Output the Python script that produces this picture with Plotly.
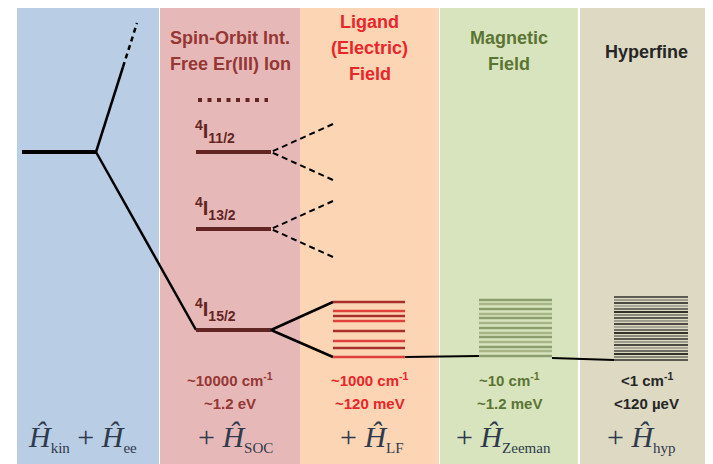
import plotly.graph_objects as go

# ============================================
# Panels (one per term of the Hamiltonian)
# ============================================
panel_titles = [[], ['Spin-Orbit Int.', 'Free Er(III) Ion'], ['Ligand', '(Electric)', 'Field'],
                ['Magnetic', 'Field'], ['Hyperfine']]
scale_cm = ['', '~10000 cm<sup>-1</sup>', '~1000 cm<sup>-1</sup>', '~10 cm<sup>-1</sup>', '&lt;1 cm<sup>-1</sup>']
scale_ev = ['', '~1.2 eV', '~120 meV', '~1.2 meV', '&lt;120 µeV']
ham_sub = [('kin', 'ee'), ('SOC',), ('LF',), ('Zeeman',), ('hyp',)]

# ============================================
# Energy levels (arbitrary units, up = higher energy)
# ============================================
free_ion_E = 312
upper_E = [397, 441]          # solid part ends, dashed part ends
so_terms = ['<sup>4</sup>I<sub>15/2</sub>', '<sup>4</sup>I<sub>13/2</sub>', '<sup>4</sup>I<sub>11/2</sub>']
so_E = [134, 235, 312]
so_higher_E = 364
excited_split = 28
lf_E = [162, 153, 148, 143, 133, 123, 116, 107]
zeeman_E = [164, 160, 155, 150, 146, 141, 136, 131, 127, 122, 117, 113, 108]
hyp_E = [167, 164, 161, 158, 155, 152, 149, 146, 143, 140, 137, 134, 131, 128,
         125, 122, 119, 116, 113, 110, 107, 104]

# layout / style  (page has an 8px body margin, so the figure is 8px smaller)
PAD = 8
W, H = 713, 464
panel_x = [(17, 159), (160, 300), (300, 439), (440, 578), (580, 713)]
panel_fill = ['#b9cde5', '#e6b9b8', '#fcd5b5', '#d7e4bd', '#ddd9c3']
text_col = ['#2f3a4c', '#953735', '#e8262a', '#5c7433', '#262626']
ham_x = [82, 235, 372, 503, 641]
level_x = [(22, 96), (196, 271), (333, 405), (479, 552), (614, 688)]
so_col = '#632523'
lf_cols = ['#a8302c', '#e0403c']
zee_cols = ['#8c9e6e', '#a6b486']
hyp_cols = ['#5a5a50', '#9c9c8c', '#4a4a42', '#a8a898', '#6e6e62', '#33332c', '#8a8a7c']

fig = go.Figure()


def seg(xs, ys, color='black', width=2.5, dash='solid'):
    fig.add_trace(go.Scatter(x=xs, y=ys, mode='lines', hoverinfo='skip', showlegend=False,
                             line=dict(color=color, width=width, dash=dash)))


def ham_text(subs):
    sub = '<sub><span style="font-size:15px">%s</span></sub>'
    parts = ['<i>Ĥ</i>' + sub % s for s in subs]
    txt = ' + '.join(parts)
    return txt if len(subs) > 1 else '+ ' + txt


# kinetic + electron-electron level and its branches
x0, x1 = level_x[0]
seg([x0, x1], [free_ion_E, free_ion_E], width=4)
seg([x1, 123], [free_ion_E, upper_E[0]])
seg([123, 137], upper_E, dash='5px,4px')
seg([x1, level_x[1][0]], [free_ion_E, so_E[0]])

# spin-orbit terms
sx0, sx1 = level_x[1]
lx0, lx1 = level_x[2]
for i, (name, e) in enumerate(zip(so_terms, so_E)):
    seg([sx0, sx1], [e, e], color=so_col, width=4)
    fig.add_annotation(x=sx0 - 3, y=e + 21, text='<b>' + name + '</b>', showarrow=False, xanchor='left',
                       font=dict(family='Liberation Sans', size=20, color=so_col))
    if i == 0:
        seg([lx0, sx1, lx0], [lf_E[0], e, lf_E[-1]])
    else:
        seg([lx0, sx1, lx0], [e + excited_split, e, e - excited_split], width=2, dash='6px,4px')
seg([sx0 + 2, sx1 - 3], [so_higher_E, so_higher_E], color=so_col, width=4, dash='4px,5.5px')

# ligand field
for i, e in enumerate(lf_E):
    seg([lx0, lx1], [e, e], color=lf_cols[i % 2], width=2.5)
zx0, zx1 = level_x[3]
seg([lx1, zx0], [lf_E[-1], zeeman_E[-1]], width=2)

# Zeeman
for i, e in enumerate(zeeman_E):
    seg([zx0, zx1], [e, e], color=zee_cols[i % 2], width=2.5)
hx0, hx1 = level_x[4]
seg([zx1, hx0], [zeeman_E[-1] - 2, hyp_E[-1]], width=2)

# hyperfine
for i, e in enumerate(hyp_E):
    seg([hx0, hx1], [e, e], color=hyp_cols[i % len(hyp_cols)], width=2)

# panel backgrounds, titles and labels
shapes = []
for i, (xa, xb) in enumerate(panel_x):
    shapes.append(dict(type='rect', xref='x', yref='y', x0=xa, x1=xb, y0=0, y1=458,
                       fillcolor=panel_fill[i], line=dict(width=0), layer='below'))
    cx = (xa + xb) / 2
    n = len(panel_titles[i])
    top = 442 if n == 3 else (426 if n == 2 else 412)
    for k, t in enumerate(panel_titles[i]):
        fig.add_annotation(x=cx, y=top - 26 * k, text='<b>' + t + '</b>', showarrow=False,
                           font=dict(family='Liberation Sans', size=18, color=text_col[i]))
    if scale_cm[i]:
        fig.add_annotation(x=cx, y=85, text='<b>' + scale_cm[i] + '</b>', showarrow=False,
                           font=dict(family='Liberation Sans', size=15, color=text_col[i]))
        fig.add_annotation(x=cx, y=61, text='<b>' + scale_ev[i] + '</b>', showarrow=False,
                           font=dict(family='Liberation Sans', size=15, color=text_col[i]))
    fig.add_annotation(x=ham_x[i], y=26, text=ham_text(ham_sub[i]), showarrow=False,
                       font=dict(family='Liberation Serif', size=30, color='#2f3a4c'))

fig.update_layout(
    width=W - PAD, height=H - PAD, margin=dict(l=0, r=0, t=0, b=0),
    paper_bgcolor='white', plot_bgcolor='white', shapes=shapes,
    xaxis=dict(range=[PAD, W], visible=False, fixedrange=True),
    yaxis=dict(range=[0, H - PAD], visible=False, fixedrange=True),
)
fig.write_html("out.html")
